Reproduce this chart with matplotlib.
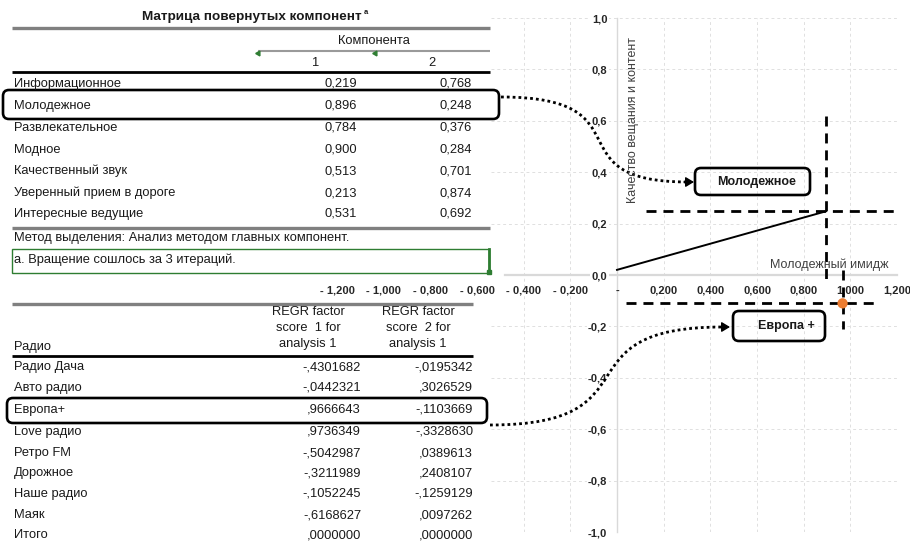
import matplotlib
matplotlib.use('Agg')
import matplotlib.pyplot as plt
from matplotlib.patches import FancyBboxPatch, FancyArrowPatch, Rectangle
from matplotlib.path import Path

plt.rcParams['font.family'] = ['Liberation Sans', 'DejaVu Sans']

# ---------------- data ----------------
rot_items = ["Информационное", "Молодежное", "Развлекательное", "Модное",
             "Качественный звук", "Уверенный прием в дороге", "Интересные ведущие"]
rot_comp1 = [0.219, 0.896, 0.784, 0.900, 0.513, 0.213, 0.531]
rot_comp2 = [0.768, 0.248, 0.376, 0.284, 0.701, 0.874, 0.692]

radios = ["Радио Дача", "Авто радио", "Европа+", "Love радио", "Ретро FM",
          "Дорожное", "Наше радио", "Маяк", "Итого"]
score1 = [-0.4301682, -0.0442321, 0.9666643, 0.9736349, -0.5042987,
          -0.3211989, -0.1052245, -0.6168627, 0.0]
score2 = [-0.0195342, 0.3026529, -0.1103669, -0.3328630, 0.0389613,
          0.2408107, -0.1259129, 0.0097262, 0.0]

x_ticks = [-1.2, -1.0, -0.8, -0.6, -0.4, -0.2, 0.0, 0.2, 0.4, 0.6, 0.8, 1.0, 1.2]
x_tick_labels = ["- 1,200", "- 1,000", "- 0,800", "- 0,600", "- 0,400", "- 0,200", "-",
                 "0,200", "0,400", "0,600", "0,800", "1,000", "1,200"]
y_ticks = [-1.0, -0.8, -0.6, -0.4, -0.2, 0.0, 0.2, 0.4, 0.6, 0.8, 1.0]
y_tick_labels = ["-1,0", "-0,8", "-0,6", "-0,4", "-0,2", "0,0", "0,2", "0,4", "0,6", "0,8", "1,0"]

line_start = [0.0, 0.02]
mol_idx = rot_items.index("Молодежное")
eur_idx = radios.index("Европа+")

# ---------------- figure ----------------
W, H = 910, 545
fig = plt.figure(figsize=(W / 100, H / 100), dpi=100)
fig.patch.set_facecolor('white')

ax = fig.add_axes([337 / W, 1 - 532 / H, 560 / W, 514 / H])
ax.patch.set_alpha(0)
ax.set_xlim(-1.2, 1.2)
ax.set_ylim(-1.0, 1.0)
for s in ['top', 'right']:
    ax.spines[s].set_visible(False)
ax.spines['bottom'].set_position(('data', 0))
ax.spines['left'].set_position(('data', 0))
ax.spines['bottom'].set_bounds(-0.48, 1.2)
ax.spines['bottom'].set_color('#d9d9d9')
ax.spines['bottom'].set_linewidth(1.6)
ax.spines['left'].set_color('#d9d9d9')
ax.spines['left'].set_linewidth(1.0)
ax.set_xticks(x_ticks)
ax.set_xticklabels(x_tick_labels)
ax.set_yticks(y_ticks)
ax.set_yticklabels(y_tick_labels)
ax.tick_params(length=0, labelsize=8, labelcolor='#262626')
ax.tick_params(axis='x', pad=7.5)
ax.tick_params(axis='y', pad=7)
ax.xaxis.set_zorder(2.6)
ax.yaxis.set_zorder(2.6)
for lbl in ax.get_xticklabels() + ax.get_yticklabels():
    lbl.set_fontweight('bold')
for lbl in ax.get_yticklabels():
    lbl.set_bbox(dict(fc='white', ec='none', pad=1.0))

grid_kw = dict(color='#e0e0e0', lw=0.7, linestyle=(0, (3, 3)), zorder=0)
ax.vlines([t for t in x_ticks if t > -0.5 and t != 0], -1, 1, **grid_kw)
ax.hlines([t for t in y_ticks if t != 0], -0.54, 1.2, **grid_kw)

mx, my = rot_comp1[mol_idx], rot_comp2[mol_idx]
ex, ey = score1[eur_idx], score2[eur_idx]

dash = dict(color='black', lw=2.0, linestyle=(0, (3.6, 2.5)), zorder=3)
ax.plot([mx, mx], [0.62, -0.02], **dash)
ax.plot([0.125, 1.2], [my, my], **dash)
ax.plot([0.04, 1.12], [ey, ey], **dash)
ax.plot([ex, ex], [0.02, -0.21], **dash)

ax.plot([line_start[0], mx], [line_start[1], my], color='black', lw=1.4, zorder=4)
ax.scatter([ex], [ey], s=55, color='#ED7D31', zorder=5, edgecolors='none')

# ---------------- overlay (pixel coordinates) ----------------
ov = fig.add_axes([0, 0, 1, 1], zorder=3)
ov.set_xlim(0, W)
ov.set_ylim(H, 0)
ov.axis('off')

txt = dict(fontsize=9.3, color='#1a1a1a', va='center')

def fmt3(v):
    return f"{v:.3f}".replace('.', ',')

def fmt_spss(v):
    s = f"{abs(v):.7f}"[1:].replace('.', ',')
    return ('-' + s) if v < 0 else s

# top table
ov.text(252, 17, "Матрица повернутых компонент", fontsize=9.7, fontweight='bold',
        ha='center', va='center', color='#1a1a1a')
ov.text(364, 12, "a", fontsize=5.5, fontweight='bold', ha='left', va='center', color='#1a1a1a')
ov.plot([12, 490], [28, 28], color='#808080', lw=2.4, solid_capstyle='butt')
ov.text(374, 41, "Компонента", ha='center', **txt)
ov.plot([258, 490], [51, 51], color='#9a9a9a', lw=1.5, solid_capstyle='butt')
ov.plot([258, 375], [52.5, 52.5], marker=(3, 0, 90), ms=4, color='#2e7d32', ls='none')
ov.text(316, 63, "1", ha='center', **txt)
ov.text(432, 63, "2", ha='center', **txt)
ov.plot([12, 490], [72, 72], color='black', lw=2.0, solid_capstyle='butt')
row_y = [84, 106, 128, 150, 171, 193, 214]
for y, name, a, b in zip(row_y, rot_items, rot_comp1, rot_comp2):
    ov.text(14, y, name, ha='left', **txt)
    ov.text(357, y, fmt3(a), ha='right', **txt)
    ov.text(472, y, fmt3(b), ha='right', **txt)
ov.plot([12, 490], [228, 228], color='#808080', lw=2.4, solid_capstyle='butt')
ov.text(14, 238, "Метод выделения: Анализ методом главных компонент.", ha='left', **txt)
ov.add_patch(Rectangle((12, 249), 477, 24, fill=False, ec='#2e7d32', lw=1.0))
ov.plot([489, 489], [249, 273], color='#2e7d32', lw=2.0)
ov.add_patch(Rectangle((487, 270), 4, 4, color='#2e7d32'))
ov.text(14, 260, "а. Вращение сошлось за 3 итераций.", ha='left', **txt)

# bottom table
ov.plot([12, 473], [304, 304], color='#808080', lw=2.4, solid_capstyle='butt')
for y, s in zip([312, 328, 344], ["REGR factor", "score  1 for", "analysis 1"]):
    ov.text(308, y, s, ha='center', **txt)
for y, s in zip([312, 328, 344], ["REGR factor", "score  2 for", "analysis 1"]):
    ov.text(418, y, s, ha='center', **txt)
ov.text(14, 347, "Радио", ha='left', **txt)
ov.plot([12, 473], [356, 356], color='black', lw=2.0, solid_capstyle='butt')
row_y2 = [367, 388, 410, 432, 453, 473, 494, 515, 535]
for y, name, a, b in zip(row_y2, radios, score1, score2):
    ov.text(14, y, name, ha='left', **txt)
    ov.text(361, y, fmt_spss(a), ha='right', **txt)
    ov.text(473, y, fmt_spss(b), ha='right', **txt)

# highlight boxes around rows
box_kw = dict(boxstyle='round,pad=0,rounding_size=6', fill=False, ec='black', lw=1.9)
ov.add_patch(FancyBboxPatch((3, 90), 496, 29, **box_kw))
ov.add_patch(FancyBboxPatch((7, 398), 480, 25, **box_kw))

# chart labels
ov.add_patch(FancyBboxPatch((695, 168), 115, 27, **box_kw))
ov.text(757, 182, "Молодежное", fontsize=9, fontweight='bold', ha='center', va='center', color='#1a1a1a')
ov.add_patch(FancyBboxPatch((733, 311), 92, 30, **box_kw))
ov.text(786, 326, "Европа +", fontsize=9, fontweight='bold', ha='center', va='center', color='#1a1a1a')

ov.text(633, 120, "Качество вещания и контент", rotation=90, fontsize=9,
        color='#404040', ha='center', va='center')
ov.text(829, 265, "Молодежный имидж", fontsize=9, color='#404040', ha='center', va='center')

# curved dotted connectors
dot_kw = dict(arrowstyle='-', color='black', lw=2.0, linestyle=(0, (1, 1.1)), capstyle='butt')
p1 = Path([(501, 97), (650, 97), (550, 182), (688, 182)],
          [Path.MOVETO, Path.CURVE4, Path.CURVE4, Path.CURVE4])
ov.add_patch(FancyArrowPatch(path=p1, **dot_kw))
ov.annotate('', xy=(694, 182), xytext=(684, 182),
            arrowprops=dict(arrowstyle='-|>,head_length=0.5,head_width=0.3', color='black', lw=1, shrinkA=0, shrinkB=0))
p2 = Path([(490, 425), (660, 425), (555, 327), (723, 327)],
          [Path.MOVETO, Path.CURVE4, Path.CURVE4, Path.CURVE4])
ov.add_patch(FancyArrowPatch(path=p2, **dot_kw))
ov.annotate('', xy=(730, 327), xytext=(720, 327),
            arrowprops=dict(arrowstyle='-|>,head_length=0.5,head_width=0.3', color='black', lw=1, shrinkA=0, shrinkB=0))

fig.savefig('out.png', dpi=100, facecolor='white')
